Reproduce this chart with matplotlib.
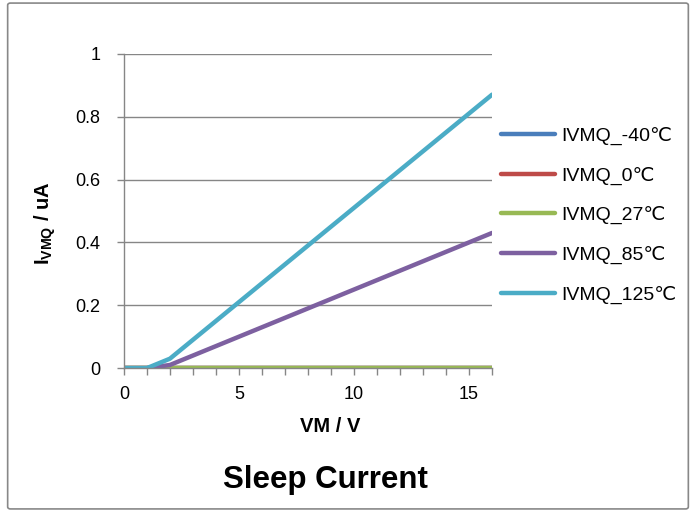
import matplotlib.pyplot as plt
from matplotlib.patches import FancyBboxPatch

plt.rcParams['font.family'] = ['Liberation Sans', 'DejaVu Sans']
plt.rcParams['mathtext.fontset'] = 'custom'
plt.rcParams['mathtext.rm'] = 'Liberation Sans'
plt.rcParams['mathtext.bf'] = 'Liberation Sans:bold'

# supply voltage, V
vm = list(range(0, 17))

# sleep current per temperature, uA
ivmq_m40 = [0] * 17
ivmq_0 = [0] * 17
ivmq_27 = [0] * 17
ivmq_85 = [0, 0, 0.01, 0.04, 0.07, 0.10, 0.13, 0.16, 0.19, 0.22, 0.25,
           0.28, 0.31, 0.34, 0.37, 0.40, 0.43]
ivmq_125 = [0, 0, 0.03, 0.09, 0.15, 0.21, 0.27, 0.33, 0.39, 0.45, 0.51,
            0.57, 0.63, 0.69, 0.75, 0.81, 0.87]

labels = ['IVMQ_-40℃', 'IVMQ_0℃', 'IVMQ_27℃', 'IVMQ_85℃', 'IVMQ_125℃']
colors = ['#4A7EBB', '#BE4B48', '#98B954', '#7D60A0', '#4BACC6']
series = [ivmq_m40, ivmq_0, ivmq_27, ivmq_85, ivmq_125]

fig = plt.figure(figsize=(6.96, 5.12), dpi=100)
ax = fig.add_axes([0.178, 0.281, 0.529, 0.614])

# Excel-like outer frame
frame = FancyBboxPatch((0.011, 0.006), 0.978, 0.988, boxstyle='round,pad=0,rounding_size=0.004',
                       transform=fig.transFigure, facecolor='none', edgecolor='#888888', lw=1.2)
fig.patches.append(frame)

for y, lab, c in zip(series, labels, colors):
    ax.plot(vm, y, color=c, lw=3.2, label=lab, solid_capstyle='round')

ax.set_xlim(0, 16)
ax.set_ylim(0, 1)
ax.set_xticks([0, 5, 10, 15])
ax.set_xticks(range(0, 17), minor=True)
ax.set_yticks([0, 0.2, 0.4, 0.6, 0.8, 1.0])
ax.set_yticklabels(['0', '0.2', '0.4', '0.6', '0.8', '1'])
ax.grid(axis='y', color='#868686', lw=1)
ax.set_axisbelow(True)

for s in ['top', 'right']:
    ax.spines[s].set_visible(False)
for s in ['left', 'bottom']:
    ax.spines[s].set_color('#868686')
    ax.spines[s].set_linewidth(1)
ax.tick_params(axis='both', which='both', color='#868686', labelsize=13, length=5, width=1,
               direction='out')
ax.tick_params(axis='x', which='both', pad=8)
ax.tick_params(axis='y', pad=12)

ax.set_xlabel('VM / V', fontsize=14.5, fontweight='bold', labelpad=10)
ax.set_ylabel(r'$\mathbf{I_{VMQ}}$ / uA', fontsize=14.5, fontweight='bold', labelpad=12)
ax.xaxis.label.set_x(0.56)
ax.yaxis.label.set_y(0.46)

fig.text(0.467, 0.062, 'Sleep Current', ha='center', va='center', fontsize=22.5, fontweight='bold')

fig.legend(loc='upper left', bbox_to_anchor=(0.708, 0.768), frameon=False, fontsize=14,
           handlelength=2.8, handletextpad=0.3, labelspacing=1.11, borderaxespad=0)

fig.savefig('out.png', dpi=100)
